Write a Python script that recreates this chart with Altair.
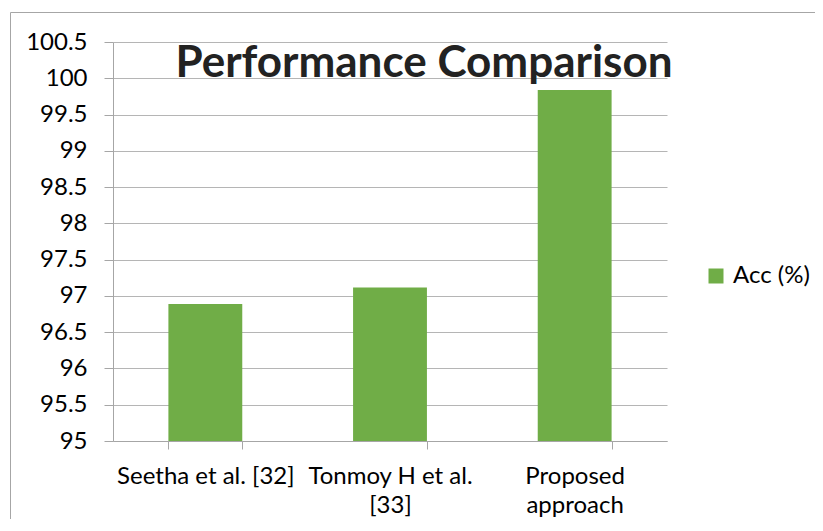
import altair as alt
import pandas as pd

# ---- data ----
categories = ["Seetha et al. [32]", "Tonmoy H et al. [33]", "Proposed approach"]
category_lines = [["Seetha et al. [32]"], ["Tonmoy H et al.", "[33]"], ["Proposed", "approach"]]
acc_values = [96.89, 97.115, 99.84]
series_name = "Acc (%)"
y_ticks = [95, 95.5, 96, 96.5, 97, 97.5, 98, 98.5, 99, 99.5, 100, 100.5]
y_min, y_max = 95, 100.5
chart_title = "Performance Comparison"

BAR_GREEN = "#70AD47"
GRID = "#b5b5b5"
AXIS = "#a6a6a6"
FONT = "Lato"

df = pd.DataFrame({"Method": categories, "Acc": acc_values, "Series": [series_name] * len(categories)})

# multi-line axis labels
expr = "datum.label"
for cat, lines in zip(categories, category_lines):
    if len(lines) > 1:
        arr = "[" + ", ".join("'" + s + "'" for s in lines) + "]"
        expr = f"datum.label == '{cat}' ? {arr} : ({expr})"

bars = alt.Chart(df).mark_bar().encode(
    x=alt.X(
        "Method:N",
        sort=categories,
        scale=alt.Scale(paddingInner=0.6, paddingOuter=0.3),
        axis=alt.Axis(
            title=None,
            labelAngle=0,
            labelExpr=expr,
            tickBand="extent",
            tickSize=8,
            tickColor=AXIS,
            domainColor=AXIS,
            labelFont=FONT,
            labelFontSize=24,
            labelColor="#000000",
            labelLineHeight=29,
            labelPadding=15,
            labelLimit=0,
            grid=False,
        ),
    ),
    y=alt.Y(
        "Acc:Q",
        scale=alt.Scale(domain=[y_min, y_max], nice=False, zero=False),
        axis=alt.Axis(
            title=None,
            values=y_ticks,
            format=".1~f",
            tickSize=9,
            tickColor=AXIS,
            domainColor=AXIS,
            gridColor=GRID,
            labelFont=FONT,
            labelFontSize=24,
            labelColor="#000000",
            labelPadding=17,
        ),
    ),
    y2=alt.datum(y_min),
    color=alt.Color(
        "Series:N",
        scale=alt.Scale(range=[BAR_GREEN]),
        legend=alt.Legend(
            title=None,
            orient="none",
            legendX=591,
            legendY=222,
            symbolType="square",
            symbolSize=225,
            symbolStrokeWidth=0,
            symbolOpacity=1,
            labelFont=FONT,
            labelFontSize=24,
            labelColor="#000000",
            labelOffset=5,
        ),
    ),
)

title_df = pd.DataFrame({"t": [chart_title]})
title_layer = alt.Chart(title_df).mark_text(
    font=FONT, fontSize=44, fontWeight="bold", color="#222222", align="center", baseline="alphabetic"
).encode(x=alt.value(311), y=alt.value(35), text="t:N")

frame_df = pd.DataFrame({"k": [0]})
top_border = alt.Chart(frame_df).mark_rule(color=AXIS, strokeWidth=1).encode(
    x=alt.value(-102.5), x2=alt.value(720), y=alt.value(-29.5)
)
left_border = alt.Chart(frame_df).mark_rule(color=AXIS, strokeWidth=1).encode(
    x=alt.value(-102.5), y=alt.value(-29.5), y2=alt.value(520)
)

chart = (
    alt.layer(top_border, left_border, bars, title_layer)
    .properties(
        width=554,
        height=399,
        padding={"left": 105, "top": 34, "right": 148, "bottom": 78},
        autosize=alt.AutoSizeParams(type="none"),
    )
    .configure_view(stroke=None)
)

chart.save("out.html", embed_options={"renderer": "svg", "actions": False})
